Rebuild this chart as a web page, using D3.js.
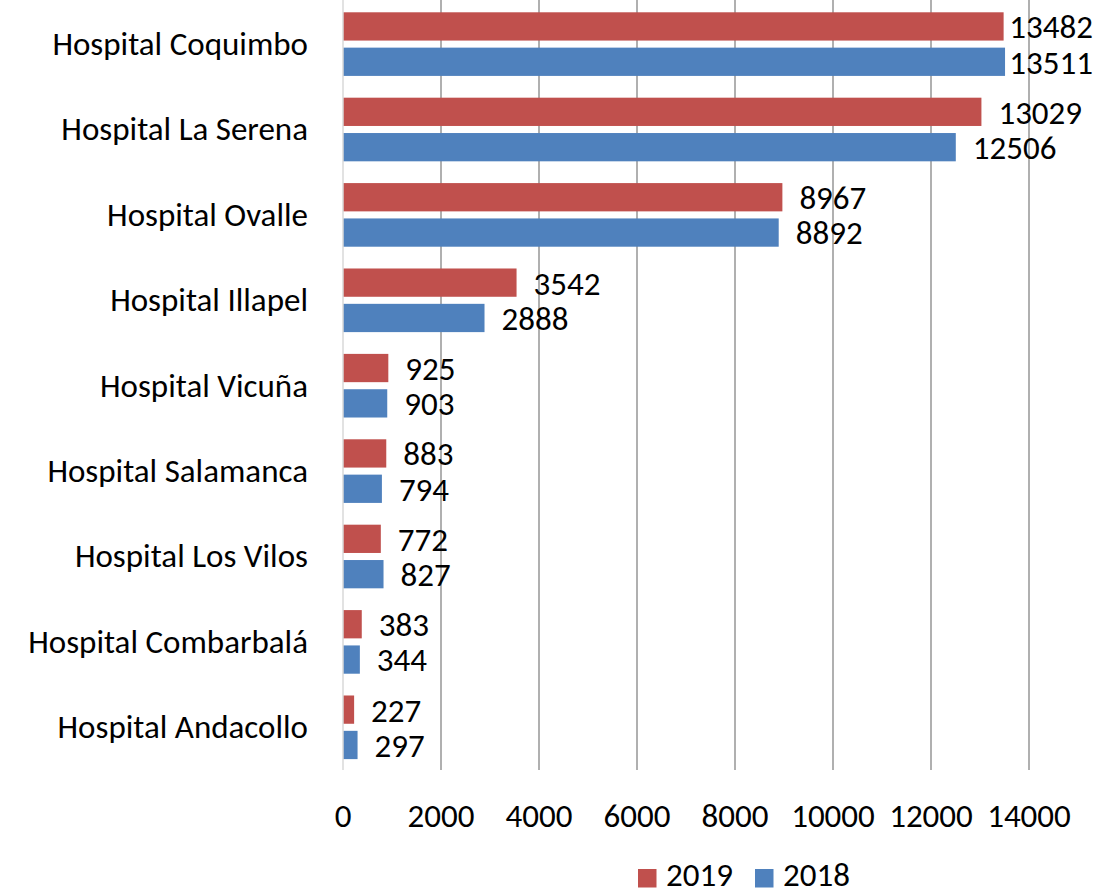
<!DOCTYPE html>
<html>
<head>
<meta charset="utf-8">
<script src="https://cdn.jsdelivr.net/npm/d3@7"></script>
<style>
  html, body { margin: 0; padding: 0; background: #fff; }
  svg text { font-family: Carlito, Calibri, Lato, sans-serif; fill: #000; }
</style>
</head>
<body>
<div id="chart"></div>
<script>
// categories top to bottom
var hospitals = ["Hospital Coquimbo", "Hospital La Serena", "Hospital Ovalle", "Hospital Illapel",
    "Hospital Vicuña", "Hospital Salamanca", "Hospital Los Vilos", "Hospital Combarbalá", "Hospital Andacollo"];
var series = ["2019", "2018"];
var values2019 = [13482, 13029, 8967, 3542, 925, 883, 772, 383, 227];
var values2018 = [13511, 12506, 8892, 2888, 903, 794, 827, 344, 297];
var ticks = [0, 2000, 4000, 6000, 8000, 10000, 12000, 14000];

var width = 1095, height = 890;
var colors = { "2019": "#C0504D", "2018": "#4F81BD" };
var fontSize = 33;

var data = hospitals.map(function (h, i) {
    return { name: h, "2019": values2019[i], "2018": values2018[i] };
});

var svg = d3.select("#chart").append("svg")
    .attr("width", width)
    .attr("height", height);

var x = d3.scaleLinear().domain([0, 14000]).range([343, 1029]);
var y = d3.scaleBand().domain(hospitals).range([1.4, 770]).paddingInner(0.255).paddingOuter(0.1275);
var ySub = d3.scaleBand().domain(series).range([0, y.bandwidth()]).paddingInner(0.2);

// gridlines
svg.append("g").selectAll("line")
    .data(ticks.slice(1))
    .enter().append("line")
    .attr("x1", function (d) { return x(d); })
    .attr("x2", function (d) { return x(d); })
    .attr("y1", 0)
    .attr("y2", 770)
    .attr("stroke", "#868686")
    .attr("stroke-width", 1.3);

// bars
var groups = svg.append("g").selectAll("g")
    .data(data)
    .enter().append("g")
    .attr("transform", function (d) { return "translate(0," + y(d.name) + ")"; });

groups.selectAll("rect")
    .data(function (d) { return series.map(function (s) { return { key: s, value: d[s] }; }); })
    .enter().append("rect")
    .attr("x", x(0))
    .attr("y", function (d) { return ySub(d.key); })
    .attr("width", function (d) { return x(d.value) - x(0); })
    .attr("height", ySub.bandwidth())
    .attr("fill", function (d) { return colors[d.key]; });

// zero axis line
svg.append("line")
    .attr("x1", x(0)).attr("x2", x(0))
    .attr("y1", 0).attr("y2", 770)
    .attr("stroke", "#d9d9d9")
    .attr("stroke-width", 1.5);

// value labels
groups.selectAll("text.val")
    .data(function (d) { return series.map(function (s) { return { key: s, value: d[s] }; }); })
    .enter().append("text")
    .attr("class", "val")
    .attr("y", function (d) { return ySub(d.key) + ySub.bandwidth() / 2; })
    .attr("dy", "0.36em")
    .style("font-size", fontSize + "px")
    .text(function (d) { return d.value; })
    .attr("x", function (d) {
        var w = this.getComputedTextLength();
        return Math.min(x(d.value) + 17, 1093 - w);
    });

// category labels
svg.append("g").selectAll("text")
    .data(hospitals)
    .enter().append("text")
    .attr("x", 308)
    .attr("y", function (d) { return y(d) + y.bandwidth() / 2; })
    .attr("dy", "0.33em")
    .attr("text-anchor", "end")
    .style("font-size", fontSize + "px")
    .text(function (d) { return d; });

// x tick labels
svg.append("g").selectAll("text")
    .data(ticks)
    .enter().append("text")
    .attr("x", function (d) { return x(d); })
    .attr("y", 827)
    .attr("text-anchor", "middle")
    .style("font-size", fontSize + "px")
    .text(function (d) { return d; });

// legend
var legend = svg.append("g").selectAll("g")
    .data(series)
    .enter().append("g")
    .attr("transform", function (d, i) { return "translate(" + (638 + i * 117) + ",0)"; });
legend.append("rect")
    .attr("y", 869).attr("width", 18.5).attr("height", 18.5)
    .attr("fill", function (d) { return colors[d]; });
legend.append("text")
    .attr("x", 28).attr("y", 886)
    .style("font-size", fontSize + "px")
    .text(function (d) { return d; });
</script>
</body>
</html>
